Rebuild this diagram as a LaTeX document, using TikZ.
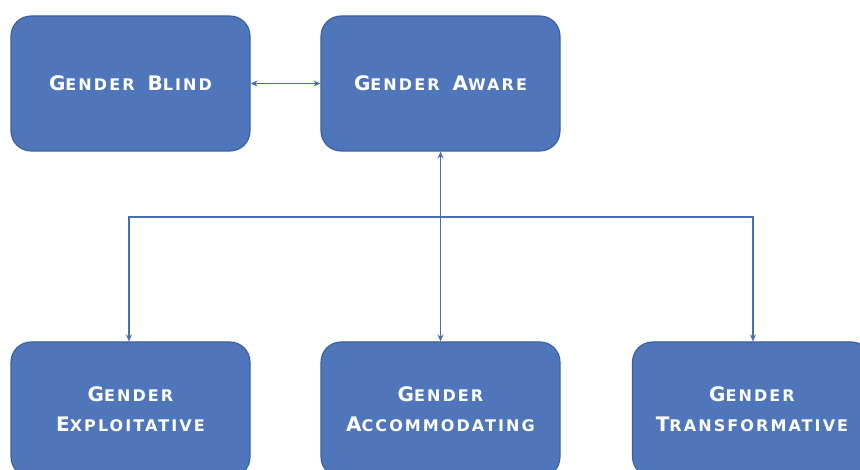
\documentclass[tikz,border=0pt]{standalone}
\usepackage{fontspec}
\setmainfont{DejaVu Sans}[LetterSpace=13]
\usetikzlibrary{arrows.meta}
\definecolor{boxfill}{HTML}{4F75BA}
\definecolor{boxline}{HTML}{3A609F}
\definecolor{conn}{HTML}{4670B2}
\newcommand\Bg[1]{{\fontsize{20}{24}\selectfont #1}}
\newcommand\Sm[1]{{\fontsize{16}{20}\selectfont #1}}
\newcommand\Sp{\hspace{13pt}}
\tikzset{
  gbox/.style={draw=boxline, line width=1.1pt, fill=boxfill, rounded corners=20pt,
    minimum width=239pt, minimum height=135pt, inner sep=0pt, text=white,
    font=\bfseries, align=center},
  conline/.style={draw=conn, line width=1.5pt},
  tp/.tip={Stealth[length=7pt,width=6pt]}
}
\begin{document}
\begin{tikzpicture}[x=1pt,y=-1pt]
\useasboundingbox (0,0) rectangle (860,470);
\clip (0,0) rectangle (860,470);
\fill[white] (0,0) rectangle (860,470);
\node[gbox] (blind) at (130.5,83.5) {\Bg{G}\Sm{ENDER}\Sp\Bg{B}\Sm{LIND}};
\node[gbox] (aware) at (440.5,83.5) {\Bg{G}\Sm{ENDER}\Sp\Bg{A}\Sm{WARE}};
\node[gbox, text depth=0pt] (expl) at (130.5,409.5) {\Bg{G}\Sm{ENDER}\\[14pt]\Bg{E}\Sm{XPLOITATIVE}};
\node[gbox] (acc) at (440.5,409.5) {\Bg{G}\Sm{ENDER}\\[14pt]\Bg{A}\Sm{CCOMMODATING}};
\node[gbox] (trans) at (752,409.5) {\Bg{G}\Sm{ENDER}\\[14pt]\Bg{T}\Sm{RANSFORMATIVE}};
\coordinate (bus) at (440.5,217);
\draw[conline,tp-tp] (blind.east) -- (aware.west);
\draw[conline,tp-tp] (aware.south) -- (acc.north);
\draw[conline,-tp] (bus) -| ([xshift=-1.5pt]expl.north);
\draw[conline,-tp] (bus) -| ([xshift=1pt]trans.north);
\end{tikzpicture}
\end{document}
